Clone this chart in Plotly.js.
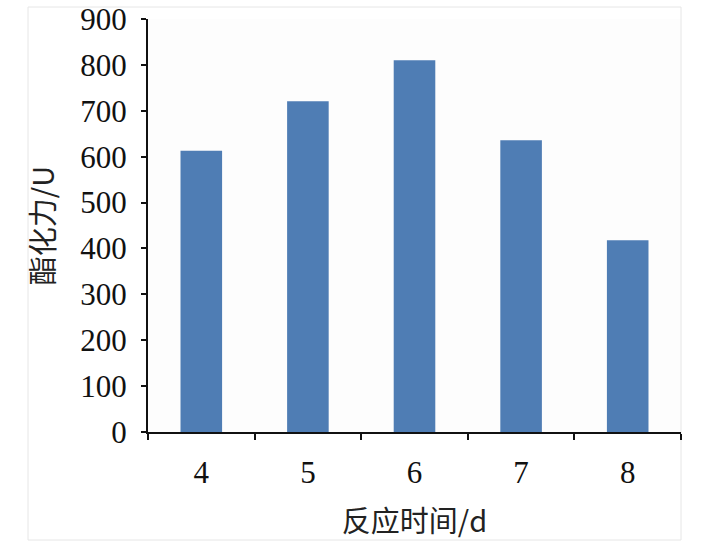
<!DOCTYPE html>
<html>
<head>
<meta charset="utf-8">
<script src="https://cdn.plot.ly/plotly-3.0.1.min.js"></script>
<style>html,body{margin:0;padding:0;background:#fff;}#chart{width:724px;height:553px;}</style>
</head>
<body>
<div id="chart"></div>
<script>
const categories = ["4", "5", "6", "7", "8"];
const values = [613, 721, 810, 636, 418];
const yTickVals = [0, 100, 200, 300, 400, 500, 600, 700, 800, 900];
const xTitle = "反应时间/d";
const yTitle = "酯化力/U";

const fontFam = "'Liberation Serif', 'Times New Roman', 'Noto Sans CJK SC', serif";

const trace = {
  type: "bar",
  x: categories,
  y: values,
  marker: {color: "#4f7db4", line: {width: 0}},
  hoverinfo: "x+y"
};

const layout = {
  width: 724,
  height: 553,
  margin: {l: 148, r: 43, t: 19, b: 121},
  paper_bgcolor: "#ffffff",
  plot_bgcolor: "#fdfdfd",
  bargap: 0.61,
  showlegend: false,
  font: {family: fontFam, color: "#111", size: 31},
  xaxis: {
    type: "category",
    range: [-0.5, 4.5],
    showline: true,
    linecolor: "#111",
    linewidth: 2,
    ticks: "outside",
    tickson: "boundaries",
    ticklen: 6,
    tickwidth: 2,
    tickcolor: "#111",
    showgrid: false,
    zeroline: false,
    tickfont: {family: fontFam, size: 31, color: "#111"},
    ticklabelstandoff: 12,
    title: {text: xTitle, font: {family: "'Noto Sans CJK SC', sans-serif", size: 29, color: "#222"}, standoff: 22}
  },
  yaxis: {
    range: [0, 900],
    tickvals: yTickVals,
    showline: true,
    linecolor: "#111",
    linewidth: 2,
    ticks: "outside",
    ticklen: 5,
    tickwidth: 2,
    tickcolor: "#111",
    showgrid: false,
    zeroline: false,
    tickfont: {family: fontFam, size: 31, color: "#111"},
    ticklabelstandoff: 8,
    title: {text: yTitle, font: {family: "'Noto Sans CJK SC', sans-serif", size: 29, color: "#222"}, standoff: 17}
  },
  shapes: [{
    type: "rect",
    xref: "paper", yref: "paper",
    x0: (28 - 148) / 533, x1: 1,
    y0: (432 - 540) / 413, y1: (432 - 7) / 413,
    line: {color: "#e6e6e6", width: 1},
    fillcolor: "rgba(0,0,0,0)",
    layer: "below"
  }]
};

Plotly.newPlot("chart", [trace], layout, {displayModeBar: false, staticPlot: true});
</script>
</body>
</html>
